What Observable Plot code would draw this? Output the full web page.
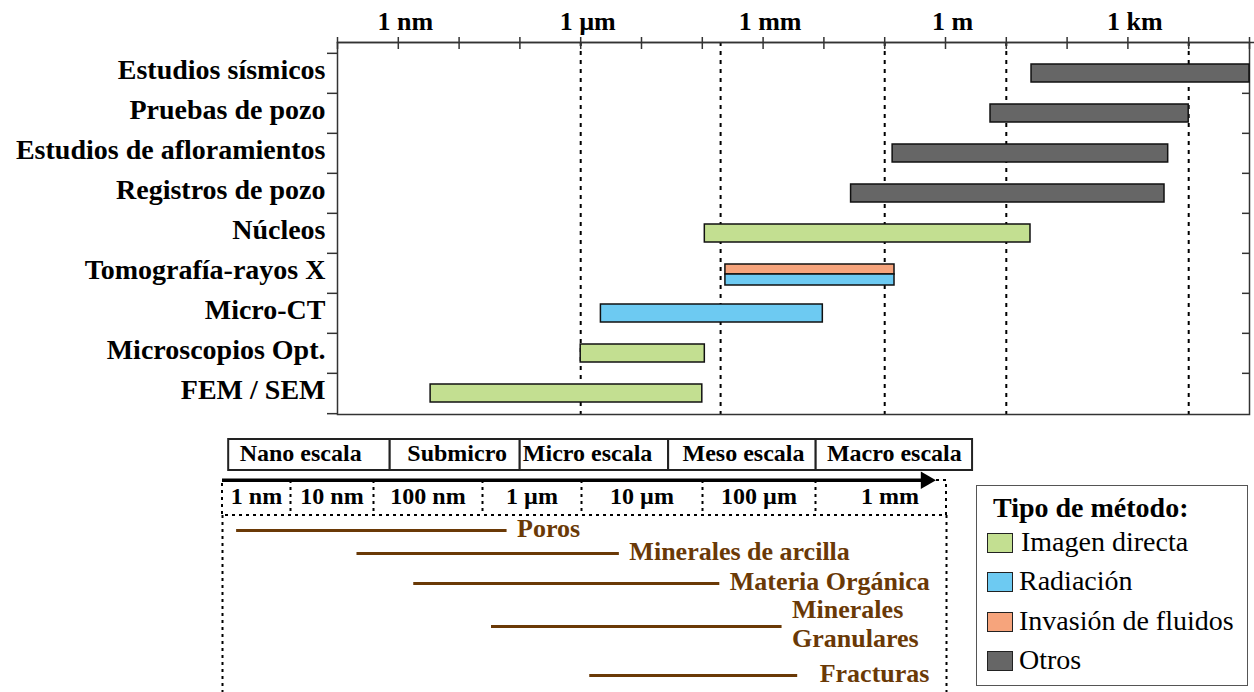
<!DOCTYPE html>
<html>
<head>
<meta charset="utf-8">
<script src="https://cdn.jsdelivr.net/npm/d3@7"></script>
<script src="https://cdn.jsdelivr.net/npm/@observablehq/plot@0.6"></script>
<style>
  body { margin: 0; background: #fff; }
  #wrap { position: relative; width: 1254px; height: 692px; font-family: "Liberation Serif", "Times New Roman", serif; background: #fff; }
  .part { position: absolute; left: 0; }
</style>
</head>
<body>
<div id="wrap"></div>
<script>
// ---------- Data ----------
const methods = ["Estudios sísmicos", "Pruebas de pozo", "Estudios de afloramientos", "Registros de pozo",
  "Núcleos", "Tomografía-rayos X", "Micro-CT", "Microscopios Opt.", "FEM / SEM"];
const methodTypes = ["Imagen directa", "Radiación", "Invasión de fluidos", "Otros"];
const typeColors = ["#c3df91", "#6dcaf2", "#f6a47c", "#666666"];

// scale ranges (metres) of each method
const bars = [
  {method: "Estudios sísmicos", type: "Otros", from: 26, to: 1e5},
  {method: "Pruebas de pozo", type: "Otros", from: 5.5, to: 1e4},
  {method: "Estudios de afloramientos", type: "Otros", from: 0.135, to: 4.6e3},
  {method: "Registros de pozo", type: "Otros", from: 0.028, to: 4.0e3},
  {method: "Núcleos", type: "Imagen directa", from: 1.1e-4, to: 25},
  {method: "Tomografía-rayos X", type: "Invasión de fluidos", from: 2.4e-4, to: 0.145},
  {method: "Tomografía-rayos X", type: "Radiación", from: 2.4e-4, to: 0.145},
  {method: "Micro-CT", type: "Radiación", from: 2.15e-6, to: 9.6e-3},
  {method: "Microscopios Opt.", type: "Imagen directa", from: 1e-6, to: 1.1e-4},
  {method: "FEM / SEM", type: "Imagen directa", from: 3.4e-9, to: 1e-4}
];

const decades = [1e-10, 1e-9, 1e-8, 1e-7, 1e-6, 1e-5, 1e-4, 1e-3, 1e-2, 1e-1, 1, 10, 100, 1e3, 1e4, 1e5];
const topLabels = [
  {value: 1e-9, label: "1 nm"}, {value: 1e-6, label: "1 µm"}, {value: 1e-3, label: "1 mm"},
  {value: 1, label: "1 m"}, {value: 1e3, label: "1 km"}
];
const gridLines = [1e-6, 2e-4, 1e-1, 1e1, 1e4];

// lower schematic
const scaleBands = [
  {name: "Nano escala", from: 3.9e-10, to: 4.5e-8},
  {name: "Submicro", from: 4.5e-8, to: 7.6e-7},
  {name: "Micro escala", from: 7.6e-7, to: 1.66e-5},
  {name: "Meso escala", from: 1.66e-5, to: 3.2e-4},
  {name: "Macro escala", from: 3.2e-4, to: 5e-3}
];
const sizeTicks = [
  {label: "1 nm", value: 1e-9}, {label: "10 nm", value: 1e-8}, {label: "100 nm", value: 1e-7},
  {label: "1 µm", value: 1e-6}, {label: "10 µm", value: 1e-5}, {label: "100 µm", value: 1e-4},
  {label: "1 mm", value: 1e-3}
];
const arrowSpan = [{from: 3.162e-10, to: 2.2e-3}];
const features = [
  {name: "Poros", from: 5.1e-10, to: 5.6e-7},
  {name: "Minerales de arcilla", from: 2.0e-8, to: 6.5e-6},
  {name: "Materia Orgánica", from: 7.4e-8, to: 4.5e-5},
  {name: "Minerales\nGranulares", from: 3.9e-7, to: 1.6e-4},
  {name: "Fracturas", from: 3.7e-6, to: 2.2e-4}
];

// ---------- Layout / scale configuration ----------
const lg = Math.log10;
const wrap = document.getElementById("wrap");
const baseStyle = {fontFamily: "'Liberation Serif', 'Times New Roman', serif", fontWeight: "bold", fontSize: "24px", background: "transparent", overflow: "visible"};

// Top chart
const yRange = [51, 414];
const step = (yRange[1] - yRange[0]) / methods.length;
const tomo = "Tomografía-rayos X";
const barStyle = {x1: "from", x2: "to", y: "method", fill: "type", stroke: "#111", strokeWidth: 1.5};

const plotA = Plot.plot({
  width: 1254, height: 420,
  marginTop: 42, marginLeft: 337, marginRight: 5, marginBottom: 6,
  x: {type: "log", domain: [1e-10, 1e5], range: [337, 1249]},
  y: {type: "band", domain: methods, range: yRange, paddingInner: 0.55, paddingOuter: 0.275},
  color: {domain: methodTypes, range: typeColors},
  style: baseStyle,
  marks: [
    Plot.ruleX(gridLines, {stroke: "#000", strokeWidth: 2, strokeDasharray: "4,5"}),
    Plot.frame({stroke: "#333", strokeWidth: 1.5}),
    Plot.frame({anchor: "top", insetRight: -5, stroke: "#333", strokeWidth: 1.5}),
    Plot.axisX({anchor: "top", ticks: decades, tickSize: 12, dy: 6, tickFormat: () => "", label: null, stroke: "#333", strokeWidth: 1.5}),
    Plot.text(topLabels, {x: "value", text: "label", frameAnchor: "top", lineAnchor: "middle", dy: -21, dx: 7, fontSize: 26, fontWeight: "bold"}),
    Plot.axisY({anchor: "left", tickSize: 0, tickPadding: 12, dy: -3, fontSize: 28, fontWeight: "bold", label: null}),
    Plot.ruleY(methods, {y: d => d, dy: -step / 2, insetLeft: -10, insetRight: 912, stroke: "#333", strokeWidth: 1.5}),
    Plot.ruleY(methods.slice(-1), {y: d => d, dy: step / 2, insetLeft: -10, insetRight: 912, stroke: "#333", strokeWidth: 1.5}),
    Plot.ruleY(methods.slice(1), {y: d => d, dy: -step / 2, insetLeft: 905, stroke: "#333", strokeWidth: 1.5}),
    Plot.barX(bars.filter(d => d.method !== tomo), barStyle),
    Plot.barX(bars.filter(d => d.method === tomo && d.type === "Invasión de fluidos"), {...barStyle, insetBottom: 8}),
    Plot.barX(bars.filter(d => d.method === tomo && d.type === "Radiación"), {...barStyle, insetTop: 10, insetBottom: -3})
  ]
});
plotA.classList.add("part");
plotA.style.top = "0px";
wrap.appendChild(plotA);

// Lower schematic: its own (non-uniform) size axis, in log10 metres
const sizeBoundExp = [-9.5, -8.5, -7.5, -6.5, -5.5, -4.5, -3.5, -2.5];
const sizeBoundPx = [222, 290, 373, 482, 581, 702, 815, 946];
const xLow = {type: "linear", domain: sizeBoundExp, range: sizeBoundPx, axis: null};
const headRows = ["escala", "tamaño"];
const headRange = [8, 85], headPad = 0.15;
const headBw = (headRange[1] - headRange[0]) / (headRows.length - headPad) * (1 - headPad);
const dotted = {stroke: "#000", strokeWidth: 2, strokeDasharray: "3,4"};

const plotB = Plot.plot({
  width: 1254, height: 90, margin: 0,
  x: xLow,
  y: {type: "band", domain: headRows, range: headRange, paddingInner: headPad, paddingOuter: 0, axis: null},
  style: baseStyle,
  marks: [
    Plot.barX(scaleBands, {x1: d => lg(d.from), x2: d => lg(d.to), y: () => "escala", fill: "#fff", stroke: "#222", strokeWidth: 2, insetBottom: 4}),
    Plot.text(scaleBands, {x: d => (lg(d.from) + lg(d.to)) / 2, y: () => "escala", dy: -4, text: "name", fontSize: 24, fontWeight: "bold"}),
    Plot.barX([sizeBoundExp], {x1: d => d[0], x2: d => d[d.length - 1], y: () => "tamaño", fill: "none", ...dotted}),
    Plot.tickX(sizeBoundExp.slice(1, -1), {x: d => d, y: () => "tamaño", ...dotted}),
    Plot.text(sizeTicks.slice(0, -1), {x: d => lg(d.value), y: () => "tamaño", dy: -2, text: "label", fontSize: 24, fontWeight: "bold"}),
    Plot.text(sizeTicks.slice(-1), {x: d => lg(d.value), y: () => "tamaño", dy: -2, dx: 9, text: "label", fontSize: 24, fontWeight: "bold"}),
    Plot.ruleY(arrowSpan, {x1: d => lg(d.from), x2: d => lg(d.to), y: () => "tamaño", dy: -headBw / 2, stroke: "#000", strokeWidth: 3.5}),
    Plot.dot(arrowSpan, {x: d => lg(d.to), y: () => "tamaño", dy: -headBw / 2, symbol: "triangle", r: 6.5, rotate: 90, fill: "#000", stroke: "none"})
  ]
});
plotB.classList.add("part");
plotB.style.top = "430px";
wrap.appendChild(plotB);

const brown = "#6a3906";
const featText = {x: d => lg(d.to), y: d => features.indexOf(d), dy: -3, text: "name", textAnchor: "start", fill: brown, fontSize: 26, fontWeight: "bold", lineHeight: 1.08};
const plotC = Plot.plot({
  width: 1254, height: 177, margin: 0,
  x: xLow,
  y: {type: "linear", domain: features.map((d, i) => i), range: [15, 38, 68, 111, 160], axis: null},
  style: baseStyle,
  marks: [
    Plot.ruleX([sizeBoundExp[0], sizeBoundExp[sizeBoundExp.length - 1]], dotted),
    Plot.ruleY(features, {x1: d => lg(d.from), x2: d => lg(d.to), y: (d, i) => i, stroke: brown, strokeWidth: 3}),
    Plot.text(features.slice(0, -1), {...featText, dx: 10}),
    Plot.text(features.slice(-1), {...featText, dx: 22})
  ]
});
plotC.classList.add("part");
plotC.style.top = "515px";
wrap.appendChild(plotC);

// Legend
const legend = document.createElement("div");
legend.style.cssText = "position:absolute;left:976px;top:485px;width:270px;height:199px;border:1.5px solid #555;background:#fff;";
const title = document.createElement("div");
title.textContent = "Tipo de método:";
title.style.cssText = "position:absolute;left:16px;top:8px;font-size:28px;line-height:28px;font-weight:bold;white-space:nowrap;";
legend.appendChild(title);
methodTypes.forEach((t, i) => {
  const c = 57 + i * 39.3;
  const sw = document.createElement("div");
  sw.style.cssText = `position:absolute;left:10px;top:${c - 10}px;width:24px;height:18px;border:1.5px solid #222;background:${typeColors[i]};`;
  const tx = document.createElement("div");
  tx.textContent = t;
  tx.style.cssText = `position:absolute;left:${i === 0 ? 44 : 42}px;top:${c - 15}px;font-size:28px;line-height:28px;white-space:nowrap;`;
  legend.appendChild(sw);
  legend.appendChild(tx);
});
wrap.appendChild(legend);
</script>
</body>
</html>
